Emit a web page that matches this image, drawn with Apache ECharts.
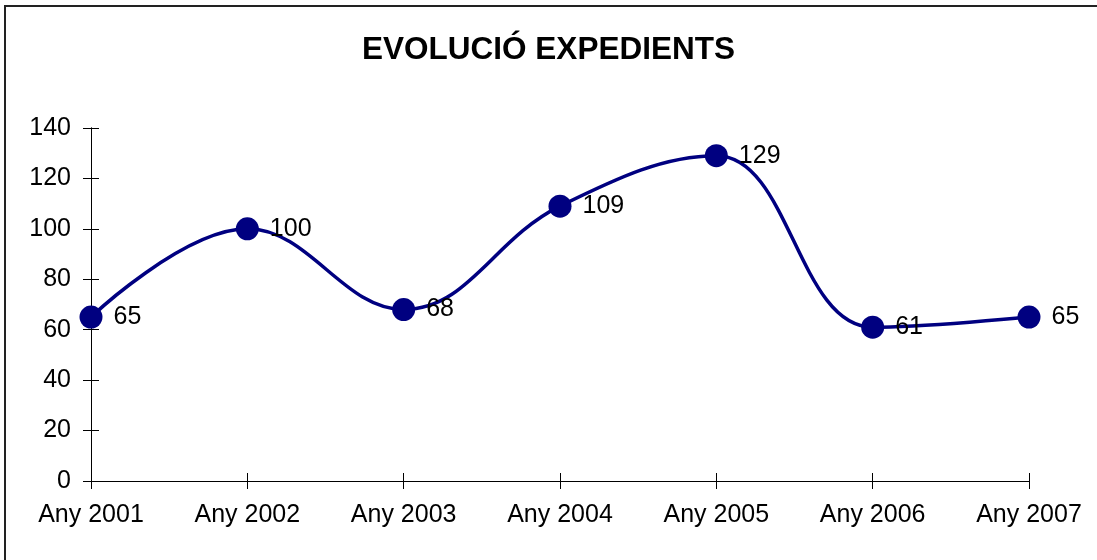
<!DOCTYPE html>
<html>
<head>
<meta charset="utf-8">
<script src="https://cdn.jsdelivr.net/npm/echarts@6/dist/echarts.min.js"></script>
<style>
html,body{margin:0;padding:0;background:#fff;}
#chart{width:1097px;height:560px;}
</style>
</head>
<body>
<div id="chart"></div>
<script>
const categories = ['Any 2001','Any 2002','Any 2003','Any 2004','Any 2005','Any 2006','Any 2007'];
const expedients = [65, 100, 68, 109, 129, 61, 65];
const yTicks = [0, 20, 40, 60, 80, 100, 120, 140];

const chart = echarts.init(document.getElementById('chart'));
const font = 'Liberation Sans, Arial, sans-serif';
const axisCommon = {
  axisLine: {show: true, lineStyle: {color: '#000', width: 1}},
  splitLine: {show: false}
};
chart.setOption({
  animation: false,
  backgroundColor: '#fff',
  graphic: [{
    type: 'rect', silent: true,
    shape: {x: 5, y: 6, width: 1200, height: 700},
    style: {fill: 'none', stroke: '#222', lineWidth: 2}
  }],
  title: {
    text: 'EVOLUCIÓ EXPEDIENTS',
    left: 'center', top: 34, padding: 0,
    textStyle: {fontFamily: font, fontSize: 31.5, fontWeight: 'bold', color: '#000'}
  },
  grid: {left: 91, right: 68, top: 128, bottom: 79, containLabel: false},
  xAxis: [
    Object.assign({
      type: 'category', data: categories, boundaryGap: false,
      axisTick: {show: true, inside: false, length: 8, lineStyle: {color: '#000'}},
      axisLabel: {fontFamily: font, fontSize: 25, color: '#000', margin: 22, interval: 0}
    }, axisCommon),
    Object.assign({
      type: 'category', data: categories, boundaryGap: false, position: 'bottom',
      axisTick: {show: true, inside: true, length: 8, lineStyle: {color: '#000'}},
      axisLabel: {show: false}
    }, axisCommon)
  ],
  yAxis: [
    Object.assign({
      type: 'value', min: yTicks[0], max: yTicks[yTicks.length-1], interval: 20,
      axisTick: {show: true, inside: false, length: 8, lineStyle: {color: '#000'}},
      axisLabel: {fontFamily: font, fontSize: 25, color: '#000', margin: 20}
    }, axisCommon),
    Object.assign({
      type: 'value', min: yTicks[0], max: yTicks[yTicks.length-1], interval: 20, position: 'left',
      axisTick: {show: true, inside: true, length: 8, lineStyle: {color: '#000'}},
      axisLabel: {show: false}
    }, axisCommon)
  ],
  series: [{
    type: 'line',
    data: expedients,
    smooth: 0.4,
    symbol: 'circle',
    symbolSize: 23,
    lineStyle: {color: '#000080', width: 3.5},
    itemStyle: {color: '#000080'},
    label: {
      show: true, position: 'right', distance: 11,
      fontFamily: font, fontSize: 25, color: '#000'
    }
  }]
});
</script>
</body>
</html>
